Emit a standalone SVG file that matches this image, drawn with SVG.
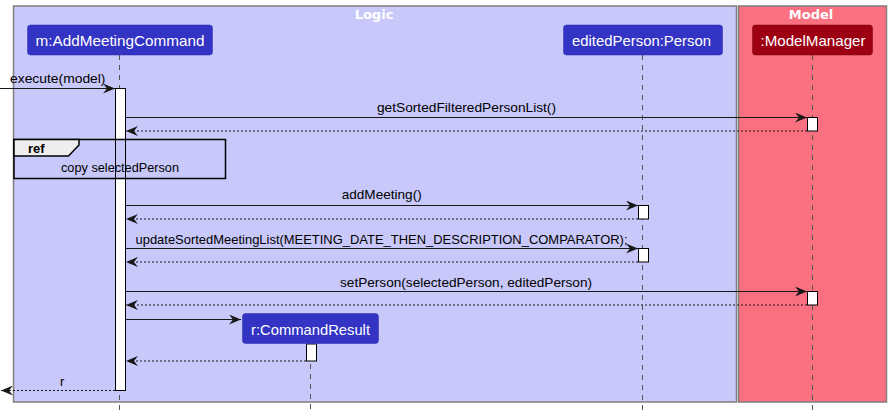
<svg xmlns="http://www.w3.org/2000/svg" width="891" height="414" viewBox="0 0 891 414">
<style>
.box{stroke:#7f7f7f;stroke-width:1.5}
.ttl{font-family:"DejaVu Sans",sans-serif;font-weight:bold;font-size:13px;fill:#ffffff;text-anchor:middle}
.pl{font-family:"Liberation Sans",Arial,sans-serif;font-size:15px;fill:#ffffff;text-anchor:middle}
.msg{font-family:"Liberation Sans",Arial,sans-serif;font-size:13px;fill:#000000}
.life{stroke:#555555;stroke-width:1;stroke-dasharray:5,5;fill:none}
.act{fill:#ffffff;stroke:#000000;stroke-width:1}
.call{stroke:#181818;stroke-width:1;fill:none}
.ret{stroke:#181818;stroke-width:1;stroke-dasharray:2,2;fill:none}
</style>
<defs>
<marker id="ah" viewBox="0 0 12 10" refX="12" refY="5" markerWidth="12" markerHeight="10" markerUnits="userSpaceOnUse" orient="auto">
<path d="M0,0 L12,5 L0,10 L4,5 Z" fill="#181818"/>
</marker>
</defs>
<rect x="0" y="0" width="891" height="414" fill="#ffffff"/>
<g id="logic-box">
<rect class="box" x="13.5" y="6" width="723" height="396" fill="#C8C8FA"/>
<text class="ttl" x="374" y="19">Logic</text>
</g>
<g id="model-box">
<rect class="box" x="738.5" y="6" width="148" height="396" fill="#F97181"/>
<text class="ttl" x="811" y="19">Model</text>
</g>
<g id="lifelines">
<line class="life" x1="119.5" y1="55" x2="119.5" y2="412"/>
<line class="life" x1="642.5" y1="55" x2="642.5" y2="412"/>
<line class="life" x1="812.5" y1="55" x2="812.5" y2="412"/>
<line class="life" x1="310.5" y1="344" x2="310.5" y2="412"/>
</g>
<g id="p-addmeeting">
<rect x="27.5" y="25" width="185" height="30" rx="3" fill="#3333C4" stroke="#2a2aa8" stroke-width="0.5"/>
<text class="pl" x="120" y="46" textLength="169" lengthAdjust="spacingAndGlyphs">m:AddMeetingCommand</text>
</g>
<g id="p-editedperson">
<rect x="563.5" y="25" width="159" height="30" rx="3" fill="#3333C4" stroke="#2a2aa8" stroke-width="0.5"/>
<text class="pl" x="641.5" y="46" textLength="139" lengthAdjust="spacingAndGlyphs">editedPerson:Person</text>
</g>
<g id="p-modelmanager">
<rect x="752.5" y="25" width="120" height="30" rx="3" fill="#9D0012" stroke="#7d000e" stroke-width="0.5"/>
<text class="pl" x="813" y="46" textLength="105" lengthAdjust="spacingAndGlyphs">:ModelManager</text>
</g>
<g id="activations">
<rect class="act" x="115.5" y="88.5" width="10" height="302"/>
<rect class="act" x="807.5" y="117.5" width="10" height="13.5"/>
<rect class="act" x="638.5" y="205.5" width="10" height="13.5"/>
<rect class="act" x="638.5" y="248.5" width="10" height="13.5"/>
<rect class="act" x="807.5" y="291.5" width="10" height="13.5"/>
<rect class="act" x="306.5" y="344" width="10" height="17"/>
</g>
<g id="ref">
<rect x="14" y="139.5" width="211.5" height="39" fill="#C8C8FA" stroke="#000000" stroke-width="1.5"/>
<path d="M14,139.5 L79,139.5 L79,145 L68.5,156 L14,156 Z" fill="#EEEEEE" stroke="#000000" stroke-width="1.5"/>
<text class="msg" x="28" y="153" font-weight="bold" style="font-size:13px">ref</text>
<text class="msg" x="120" y="172" text-anchor="middle" textLength="118" lengthAdjust="spacingAndGlyphs">copy selectedPerson</text>
<line x1="115.5" y1="139.5" x2="115.5" y2="178.5" stroke="#000" stroke-width="1"/>
<line x1="125.5" y1="139.5" x2="125.5" y2="178.5" stroke="#000" stroke-width="1"/>
</g>
<g id="p-commandresult">
<rect x="242.5" y="313.5" width="136" height="30" rx="3" fill="#3333C4" stroke="#2a2aa8" stroke-width="0.5"/>
<text class="pl" x="310.5" y="335" textLength="119" lengthAdjust="spacingAndGlyphs">r:CommandResult</text>
</g>
<g id="connectors">
<line class="call" x1="0" y1="88.5" x2="115" y2="88.5" marker-end="url(#ah)"/>
<text class="msg" x="10" y="83" textLength="95.5" lengthAdjust="spacingAndGlyphs">execute(model)</text>

<line class="call" x1="125.5" y1="117.5" x2="807" y2="117.5" marker-end="url(#ah)"/>
<text class="msg" x="466.5" y="112" text-anchor="middle" textLength="179" lengthAdjust="spacingAndGlyphs">getSortedFilteredPersonList()</text>
<line class="ret" x1="807" y1="131" x2="126" y2="131" marker-end="url(#ah)"/>

<line class="call" x1="125.5" y1="205.5" x2="638" y2="205.5" marker-end="url(#ah)"/>
<text class="msg" x="381.7" y="199" text-anchor="middle" textLength="80" lengthAdjust="spacingAndGlyphs">addMeeting()</text>
<line class="ret" x1="638" y1="219" x2="126" y2="219" marker-end="url(#ah)"/>

<line class="call" x1="125.5" y1="248.5" x2="638" y2="248.5" marker-end="url(#ah)"/>
<text class="msg" x="135.5" y="244" textLength="492" lengthAdjust="spacingAndGlyphs">updateSortedMeetingList(MEETING_DATE_THEN_DESCRIPTION_COMPARATOR);</text>
<line class="ret" x1="638" y1="262" x2="126" y2="262" marker-end="url(#ah)"/>

<line class="call" x1="125.5" y1="291.5" x2="807" y2="291.5" marker-end="url(#ah)"/>
<text class="msg" x="466" y="287" text-anchor="middle" textLength="252" lengthAdjust="spacingAndGlyphs">setPerson(selectedPerson, editedPerson)</text>
<line class="ret" x1="807" y1="305" x2="126" y2="305" marker-end="url(#ah)"/>

<line class="call" x1="125.5" y1="319.5" x2="241" y2="319.5" marker-end="url(#ah)"/>
<line class="ret" x1="306" y1="361" x2="126" y2="361" marker-end="url(#ah)"/>

<line class="ret" x1="115" y1="390.5" x2="1" y2="390.5" marker-end="url(#ah)"/>
<text class="msg" x="60" y="386">r</text>
</g>
</svg>
